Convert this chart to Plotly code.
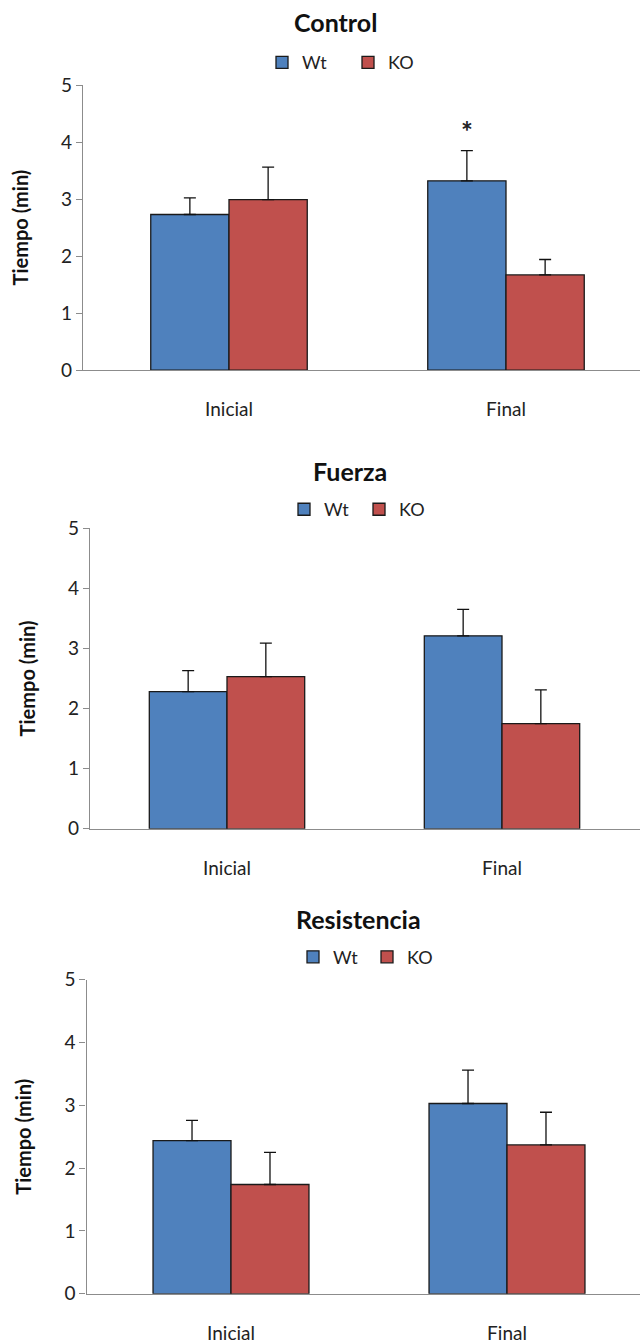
import plotly.graph_objects as go

categories = ["Inicial", "Final"]
series_names = ["Wt", "KO"]
panel_titles = ["Control", "Fuerza", "Resistencia"]

control_wt = [2.73, 3.32]
control_wt_err = [0.29, 0.53]
control_ko = [2.99, 1.67]
control_ko_err = [0.57, 0.27]

fuerza_wt = [2.28, 3.21]
fuerza_wt_err = [0.35, 0.44]
fuerza_ko = [2.53, 1.75]
fuerza_ko_err = [0.56, 0.56]

resist_wt = [2.44, 3.03]
resist_wt_err = [0.32, 0.53]
resist_ko = [1.74, 2.37]
resist_ko_err = [0.51, 0.52]

y_ticks = [0, 1, 2, 3, 4, 5]
star_value = 4.26

colors = {"Wt": "#4F81BD", "KO": "#C0504D"}
FONT = "Lato"

panels = [
    (control_wt, control_wt_err, control_ko, control_ko_err),
    (fuerza_wt, fuerza_wt_err, fuerza_ko, fuerza_ko_err),
    (resist_wt, resist_wt_err, resist_ko, resist_ko_err),
]

H = 1344.0
W = 640.0
# pixel geometry per panel: (axis_left_px, top_px, bottom_px, center0_px, center1_px)
geo = [
    (83, 74.4, 364.3, 229, 506),
    (90, 525.2, 831.0, 227, 502),
    (86.5, 984.6, 1304.1, 231, 507),
]
title_y = [10, 467, 922.6]
title_x = [335, 350, 358]
legend_y = [51.5, 506.2, 961.6]
legend_left = [262, 284, 293]
legend_entry = [41, 30, 29]

fig = go.Figure()
for i, (wt, wte, ko, koe) in enumerate(panels):
    ax = "" if i == 0 else str(i + 1)
    lg = "legend" if i == 0 else "legend" + str(i + 1)
    for name, vals, errs in (("Wt", wt, wte), ("KO", ko, koe)):
        fig.add_trace(go.Bar(
            x=categories, y=vals, name=name,
            xaxis="x" + ax, yaxis="y" + ax, legend=lg,
            marker=dict(color=colors[name], line=dict(color="#1a1a1a", width=1.3)),
            error_y=dict(type="data", array=errs, arrayminus=[0] * len(errs),
                         symmetric=False, color="#111111", thickness=1.3, width=6),
            hoverinfo="skip",
        ))

layout = dict(
    width=640, height=1344,
    margin=dict(l=0, r=0, t=0, b=0),
    paper_bgcolor="white", plot_bgcolor="white",
    barmode="group", bargap=0.435, bargroupgap=0,
    font=dict(family=FONT, color="#222222"),
    annotations=[],
)
for i, (axl, top, bot, c0, c1) in enumerate(geo):
    ax = "" if i == 0 else str(i + 1)
    d = c1 - c0
    xr = [-(c0 - axl) / d, 1 + (W - c1) / d]
    layout["xaxis" + ax] = dict(
        domain=[axl / W, 1.0], range=xr, anchor="y" + ax,
        showline=True, linecolor="#8c8c8c", linewidth=1.3,
        ticks="", showgrid=False, zeroline=False,
        tickfont=dict(family=FONT, size=19, color="#222222"),
        ticklabelstandoff=22, fixedrange=True,
    )
    layout["yaxis" + ax] = dict(
        domain=[1 - bot / H, 1 - top / H], range=[0, 5], anchor="x" + ax,
        tickvals=y_ticks, showline=True, linecolor="#8c8c8c", linewidth=1.3,
        ticks="outside", ticklen=6, tickcolor="#8c8c8c", tickwidth=1.3,
        showgrid=False, zeroline=False,
        tickfont=dict(family=FONT, size=19, color="#222222"),
        title=dict(text="<b>Tiempo (min)</b>", font=dict(family=FONT, size=20, color="#111111"), standoff=27),
        fixedrange=True,
    )
    lg = "legend" if i == 0 else "legend" + str(i + 1)
    layout[lg] = dict(
        orientation="h", x=legend_left[i] / W, xanchor="left",
        y=1 - legend_y[i] / H, yanchor="middle", yref="paper",
        font=dict(family=FONT, size=18, color="#222222"),
        bgcolor="rgba(0,0,0,0)", itemwidth=30, traceorder="normal",
        entrywidth=legend_entry[i], entrywidthmode="pixels",
    )
    layout["annotations"].append(dict(
        text="<b>" + panel_titles[i] + "</b>", xref="paper", yref="paper",
        x=title_x[i] / W, y=1 - title_y[i] / H, xanchor="center", yanchor="middle",
        showarrow=False, font=dict(family=FONT, size=25, color="#111111"),
    ))

# significance star over Control / Final / Wt
layout["annotations"].append(dict(
    text="<b>*</b>", xref="x", yref="y", x=categories[1], y=star_value, xshift=-39, yshift=-4,
    showarrow=False, font=dict(family=FONT, size=28, color="#222222"),
))

fig.update_layout(**layout)
fig.write_html("out.html")
